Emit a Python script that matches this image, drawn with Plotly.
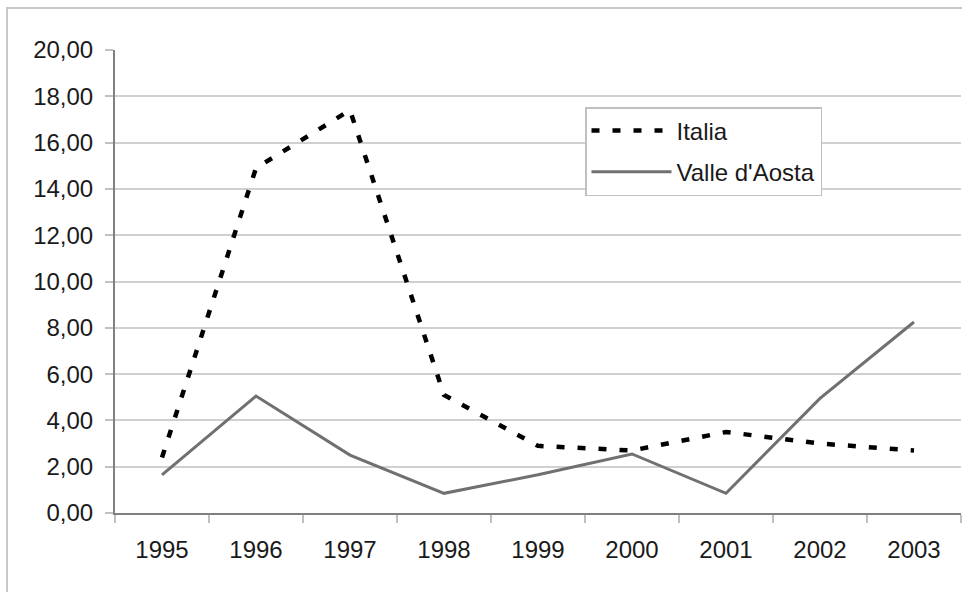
import plotly.graph_objects as go

years = ["1995", "1996", "1997", "1998", "1999", "2000", "2001", "2002", "2003"]
italia = [2.4, 14.9, 17.4, 5.1, 2.9, 2.7, 3.5, 3.0, 2.7]
valle_aosta = [1.65, 5.05, 2.5, 0.85, 1.65, 2.55, 0.85, 4.95, 8.25]
y_ticks = [0, 2, 4, 6, 8, 10, 12, 14, 16, 18, 20]

fig = go.Figure()
fig.add_trace(go.Scatter(x=years, y=italia, mode="lines", name="Italia", legendgroup="a",
                         line=dict(color="black", width=4.5, dash="8px,13px")))
fig.add_trace(go.Scatter(x=years, y=valle_aosta, mode="lines", name="Valle d'Aosta", legendgroup="b",
                         line=dict(color="#707070", width=3)))

W, H = 962, 592
L, R, T, B = 115, 961, 50, 513
pw, ph = R - L, B - T
def px(x):
    return (x - L) / pw
def py(y):
    return (B - y) / ph

fig.add_shape(type="rect", xref="paper", yref="paper",
              x0=px(7), x1=px(975), y0=py(605), y1=py(8),
              line=dict(color="#c8c8c8", width=2), layer="below")

fig.update_layout(
    width=W, height=H,
    margin=dict(l=L, r=W - R, t=T, b=H - B, pad=0),
    paper_bgcolor="white", plot_bgcolor="white",
    separators=",.",
    font=dict(family="Liberation Sans, Arial, sans-serif", size=24, color="#1a1a1a"),
    showlegend=True,
    legend=dict(x=px(585), y=py(107), xanchor="left", yanchor="top",
                bgcolor="white", bordercolor="#c0c0c0", borderwidth=1.5,
                font=dict(size=24), itemwidth=80, traceorder="grouped",
                tracegroupgap=7),
    xaxis=dict(type="category", range=[-0.5, 8.5], showgrid=False,
               showline=True, linecolor="#808080", linewidth=2,
               ticks="outside", tickson="boundaries", ticklen=8, tickcolor="#c0c0c0",
               tickwidth=2, ticklabelstandoff=14, fixedrange=True),
    yaxis=dict(range=[0, 20], tickvals=y_ticks, tickformat=".2f",
               showgrid=True, gridcolor="#d0d0d0", gridwidth=2,
               showline=True, linecolor="#808080", linewidth=2,
               ticks="outside", ticklen=8, tickcolor="#c0c0c0", tickwidth=2,
               ticklabelstandoff=7, zeroline=False, fixedrange=True),
)

fig.write_html("out.html")
